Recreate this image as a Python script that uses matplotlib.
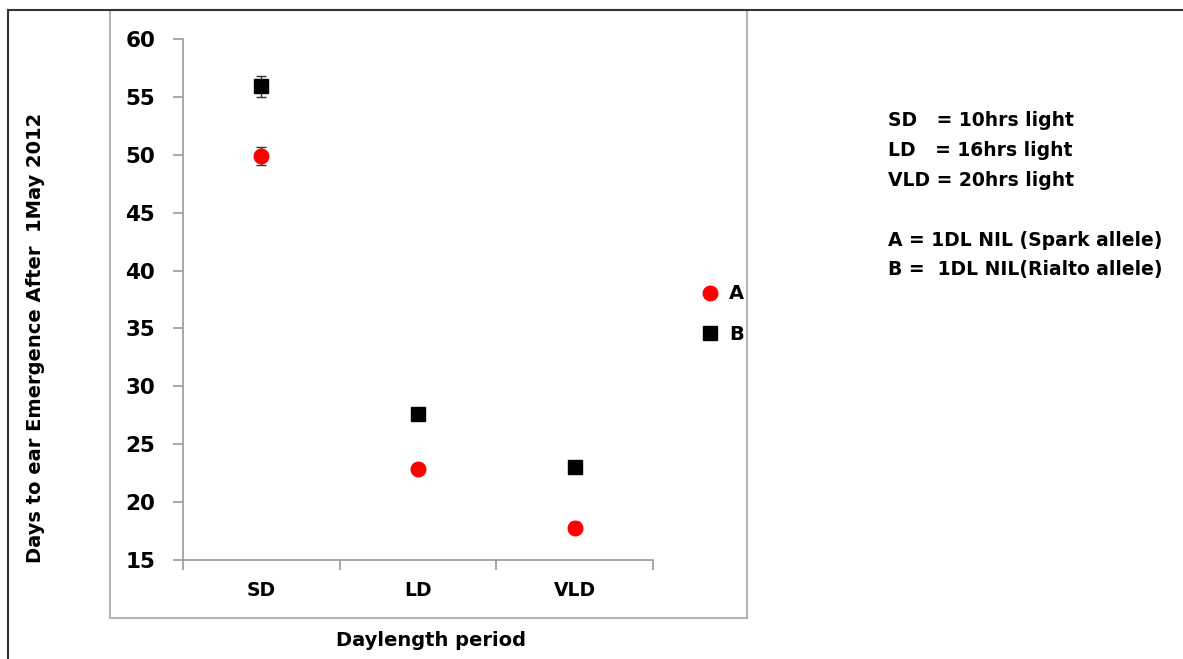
import matplotlib
matplotlib.use("Agg")
import matplotlib.pyplot as plt
from matplotlib.lines import Line2D

plt.rcParams['font.family'] = ['DejaVu Sans']

categories = ["SD", "LD", "VLD"]
a_values = [49.9, 22.9, 17.8]
a_errors = [0.75, 0.3, 0.5]
b_values = [55.9, 27.6, 23.0]
b_errors = [0.9, 0.3, 0.3]
y_ticks = [15, 20, 25, 30, 35, 40, 45, 50, 55, 60]
series_labels = ["A", "B"]
notes = ["SD   = 10hrs light", "LD   = 16hrs light", "VLD = 20hrs light", "",
         "A = 1DL NIL (Spark allele)", "B =  1DL NIL(Rialto allele)"]

W, H = 1183, 659
fig = plt.figure(figsize=(W / 100, H / 100), dpi=100)

# outer border (left and top visible)
fig.add_artist(Line2D([8 / W, 8 / W], [0, 1 - 10 / H], color='#333333', lw=1.5, transform=fig.transFigure))
fig.add_artist(Line2D([8 / W, 1], [1 - 10 / H, 1 - 10 / H], color='#333333', lw=1.5, transform=fig.transFigure))
# inner chart frame
fig.add_artist(plt.Rectangle((110 / W, 1 - 618 / H), (747 - 110) / W, (618 - 10) / H,
                             fill=False, edgecolor='#b5b5b5', lw=1.5, transform=fig.transFigure))

ax = fig.add_axes([183 / W, 1 - 560 / H, (653 - 183) / W, (560 - 39) / H])
x = [1, 2, 3]
ax.errorbar(x, a_values, yerr=a_errors, fmt='o', color='red', ms=10.5,
            ecolor='#333333', elinewidth=1, capsize=3.5, capthick=1, zorder=3)
ax.errorbar(x, b_values, yerr=b_errors, fmt='s', color='black', ms=10,
            ecolor='#333333', elinewidth=1, capsize=3.5, capthick=1, zorder=3)

ax.set_xlim(0.5, 3.5)
ax.set_ylim(15, 60)
ax.set_yticks(y_ticks)
ax.set_xticks(x)
ax.set_xticklabels(categories)
ax.set_xticks([0.5, 1.5, 2.5, 3.5], minor=True)
ax.tick_params(axis='x', which='major', length=0, pad=15, labelsize=13.5)
ax.tick_params(axis='x', which='minor', length=7, width=1.2, color='#999999', direction='out')
ax.tick_params(axis='y', length=7, width=1.2, color='#999999', pad=13, labelsize=15.5)
for lab in ax.get_xticklabels() + ax.get_yticklabels():
    lab.set_fontweight('bold')
for s in ['top', 'right']:
    ax.spines[s].set_visible(False)
for s in ['left', 'bottom']:
    ax.spines[s].set_color('#999999')
    ax.spines[s].set_linewidth(1.2)

fig.text(36 / W, 1 - 338 / H, "Days to ear Emergence After  1May 2012", rotation=90,
         ha='center', va='center', fontsize=14, fontweight='bold')
fig.text(431 / W, 1 - 640 / H, "Daylength period", ha='center', va='center',
         fontsize=14, fontweight='bold')

handles = [Line2D([], [], marker='o', color='red', ls='none', ms=10.5),
           Line2D([], [], marker='s', color='black', ls='none', ms=10)]
fig.legend(handles, series_labels, loc='center left', bbox_to_anchor=(700 / W, 1 - 314 / H),
           frameon=False, prop={'weight': 'bold', 'size': 14},
           handlelength=1.0, handletextpad=0.5, labelspacing=1.1, borderpad=0, borderaxespad=0)

y0 = 121
for i, t in enumerate(notes):
    fig.text(888 / W, 1 - (y0 + 29.8 * i) / H, t, ha='left', va='center',
             fontsize=13.5, fontweight='bold')

fig.savefig("out.png", dpi=100)
